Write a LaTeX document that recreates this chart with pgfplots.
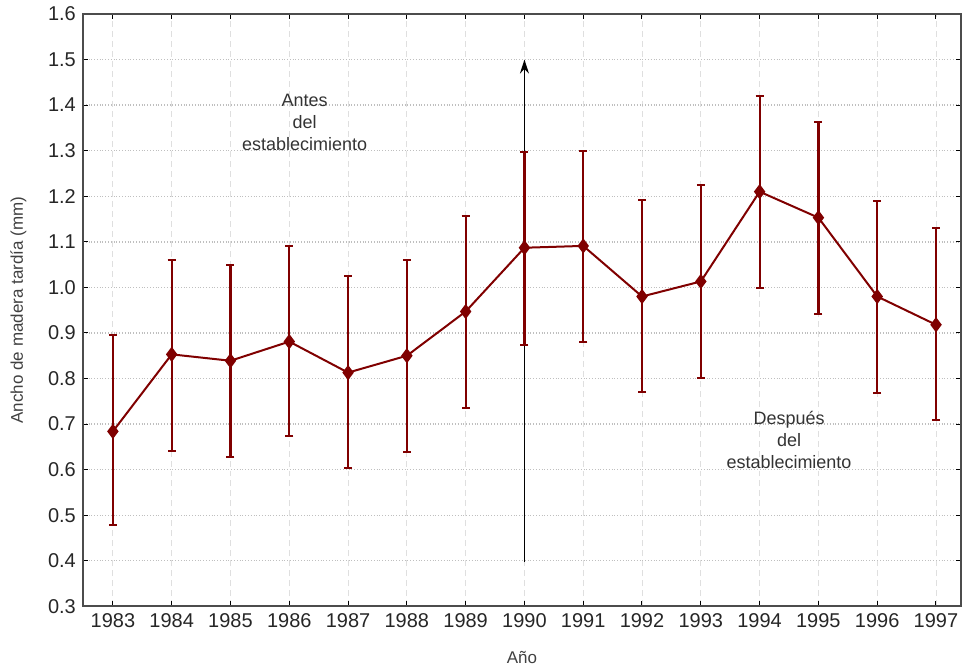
\documentclass[border=0pt]{standalone}
\usepackage{pgfplots}
\pgfplotsset{compat=1.18}
\usetikzlibrary{arrows.meta}
\usepackage{fontspec}
\setmainfont{Liberation Sans}
\definecolor{barred}{HTML}{800000}
\begin{document}
\begin{tikzpicture}
\begin{axis}[
  name=ax,
  scale only axis,
  width=439.5pt, height=296.5pt,
  xmin=1982.49, xmax=1997.425,
  ymin=0.3, ymax=1.6,
  xtick={1983,...,1997},
  ytick={0.3,0.4,...,1.6},
  /pgf/number format/assume math mode=true,
  xticklabel style={/pgf/number format/1000 sep={}, font=\fontsize{10}{12}\selectfont},
  yticklabel style={/pgf/number format/.cd, fixed, fixed zerofill, precision=1, /tikz/font=\fontsize{10}{12}\selectfont},
  xlabel={Año}, ylabel={Ancho de madera tardía (mm)},
  label style={font=\fontsize{8.5}{10}\selectfont, text=black!75},
  xlabel style={yshift=-5pt},
  ylabel style={yshift=4pt},
  tick label style={text=black!85},
  grid=major,
  x grid style={densely dashed, gray!25, line width=0.4pt},
  y grid style={densely dotted, gray!50, line width=0.7pt},
  axis line style={gray!60!black, line width=0.9pt},
  tick align=inside, tick pos=both,
  major tick length=2.5pt,
  tick style={black, line width=0.5pt},
  clip=false,
]
\draw[-{Stealth[length=7pt,width=4.5pt]}, line width=0.7pt, black] (axis cs:1990,0.397) -- (axis cs:1990,1.5);
\addplot[barred, line width=1pt, mark=diamond*, mark size=3pt,
  error bars/.cd, y dir=both, y explicit,
  error mark=-, error bar style={line width=1.1pt, barred},
  error mark options={rotate=90, line width=1pt, mark size=2pt, barred}]
  table[x=year, y=mean, y error plus=up, y error minus=down] {
year mean up down
1983 0.684 0.212 0.206
1984 0.853 0.208 0.213
1985 0.839 0.211 0.212
1986 0.881 0.210 0.208
1987 0.813 0.213 0.210
1988 0.850 0.211 0.212
1989 0.947 0.210 0.211
1990 1.087 0.211 0.213
1991 1.091 0.209 0.210
1992 0.980 0.212 0.209
1993 1.013 0.212 0.211
1994 1.210 0.210 0.211
1995 1.153 0.210 0.211
1996 0.980 0.210 0.211
1997 0.918 0.213 0.210
};
\node[align=center, font=\fontsize{9}{11}\selectfont, text=black!80] at (axis cs:1986.26,1.363) {Antes\\del\\establecimiento};
\node[align=center, font=\fontsize{9}{11}\selectfont, text=black!80] at (axis cs:1994.5,0.666) {Después\\del\\establecimiento};
\end{axis}
\pgfresetboundingbox
\path ([shift={(-41.5pt,-32.5pt)}]ax.south west) rectangle ([shift={(0.5pt,7pt)}]ax.north east);
\end{tikzpicture}
\end{document}
